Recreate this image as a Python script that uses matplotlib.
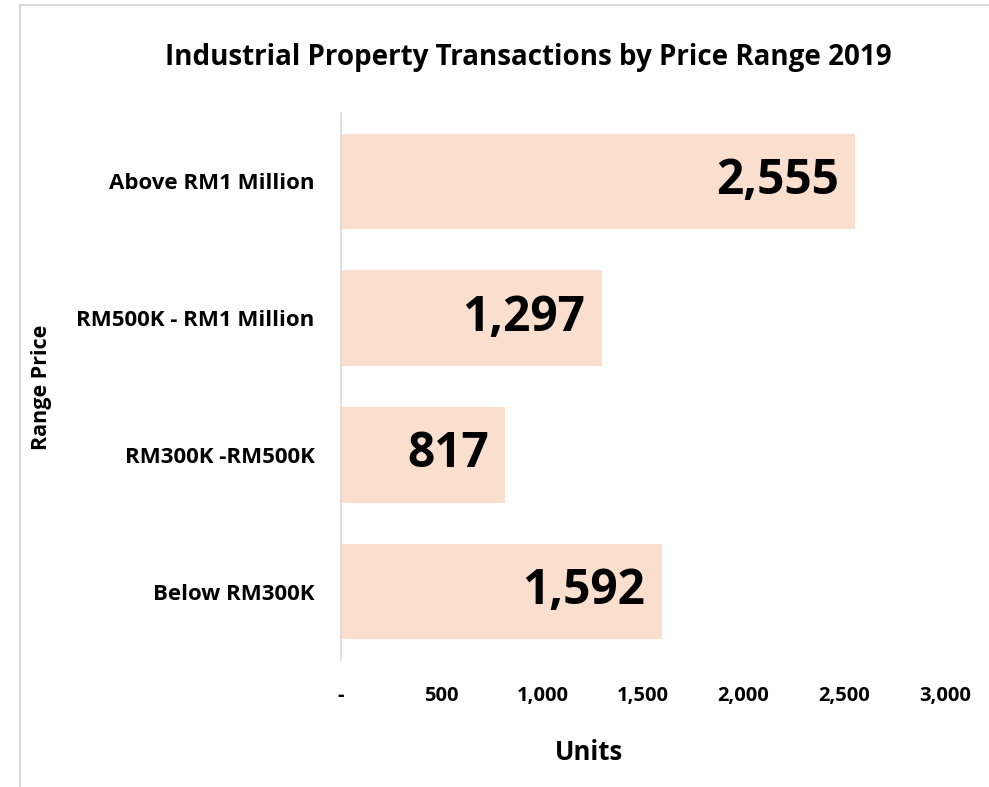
import matplotlib
matplotlib.use("Agg")
import matplotlib.pyplot as plt
from matplotlib.patches import Rectangle

categories = ["Below RM300K", "RM300K -RM500K", "RM500K - RM1 Million", "Above RM1 Million"]
values = [1592, 817, 1297, 2555]
xticks = [0, 500, 1000, 1500, 2000, 2500, 3000]
xticklabels = ["-", "500", "1,000", "1,500", "2,000", "2,500", "3,000"]

plt.rcParams['font.family'] = ['Open Sans', 'DejaVu Sans']

fig = plt.figure(figsize=(9.89, 7.87), dpi=100)
# outer frame
fig.patches.append(Rectangle((20/989, -0.1), 1.2, 1 - 5/787 + 0.1, transform=fig.transFigure,
                             fill=False, edgecolor='#D9D9D9', linewidth=1.5))

ax = fig.add_axes([341/989, 1 - 660/787, (945 - 341)/989, (660 - 113)/787])
bars = ax.barh(range(len(categories)), values, height=0.7, color='#FADECE')
ax.set_ylim(-0.5, 3.5)
ax.set_xlim(0, 3000)
ax.set_yticks(range(len(categories)))
ax.set_yticklabels(categories, fontsize=16, fontweight='bold')
ax.set_xticks(xticks)
ax.set_xticklabels(xticklabels, fontsize=14.5, fontweight='bold')
ax.tick_params(axis='both', length=0)
ax.tick_params(axis='y', pad=19)
ax.tick_params(axis='x', pad=19)
for s in ['top', 'right', 'bottom']:
    ax.spines[s].set_visible(False)
ax.spines['left'].set_color('#D9D9D9')
ax.spines['left'].set_linewidth(1.2)

for i, v in enumerate(values):
    ax.annotate(f"{v:,}", (v, i), xytext=(-12, 0), textcoords='offset points',
                ha='right', va='center', fontsize=34.5, fontweight='bold')

fig.text(528/989, 1 - 57/787, "Industrial Property Transactions by Price Range 2019",
         ha='center', va='center', fontsize=20, fontweight='bold')
fig.text(589/989, 1 - 753/787, "Units", ha='center', va='center', fontsize=18.5, fontweight='bold')
fig.text(42/989, 1 - 387/787, "Range Price", ha='center', va='center', rotation=90,
         fontsize=15.5, fontweight='bold')

fig.savefig("out.png", dpi=100)
